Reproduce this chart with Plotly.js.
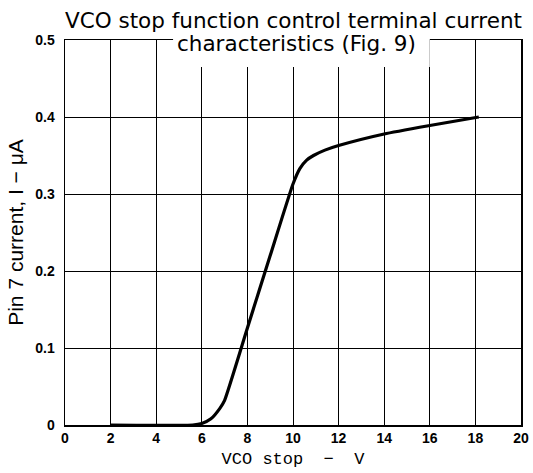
<!DOCTYPE html>
<html>
<head>
<meta charset="utf-8">
<script src="https://cdn.plot.ly/plotly-3.0.1.min.js"></script>
<style>html,body{margin:0;padding:0;background:#fff;}#chart{width:533px;height:473px;}</style>
</head>
<body>
<div id="chart"></div>
<script>
// Data
const vcoStopV = [2, 5.6, 6, 6.4, 6.8, 7, 8, 9, 10, 10.3, 10.6, 10.9, 11.4, 12, 14, 16, 18.15];
const pin7CurrentUA = [0, 0, 0.002, 0.008, 0.022, 0.032, 0.126, 0.22, 0.313, 0.333, 0.344, 0.35, 0.357, 0.363, 0.378, 0.389, 0.4];
const xTicks = [0, 2, 4, 6, 8, 10, 12, 14, 16, 18, 20];
const yTicks = [0, 0.1, 0.2, 0.3, 0.4, 0.5];
const yTickText = ['0', '0.1', '0.2', '0.3', '0.4', '0.5'];
const titleLine1 = 'VCO stop function control terminal current';
const titleLine2 = 'characteristics (Fig. 9)';
const xTitle = 'VCO stop  \u2212  V';
const yTitle = 'Pin 7 current, I \u2212 \u03bcA';

const trace = {
  x: vcoStopV,
  y: pin7CurrentUA,
  mode: 'lines',
  line: {color: '#000', width: 3.2, shape: 'spline', smoothing: 0.5},
  hoverinfo: 'skip'
};

const tickFont = {family: 'Liberation Sans, Arial, sans-serif', size: 14, color: '#000', weight: 'bold'};
const titleFont = {family: 'DejaVu Sans, Verdana, sans-serif', size: 21.5, color: '#000'};

const layout = {
  width: 533, height: 473,
  margin: {l: 65, r: 12, t: 40, b: 48},
  paper_bgcolor: '#fff', plot_bgcolor: '#fff',
  showlegend: false,
  xaxis: {
    range: [0, 20], tickvals: xTicks, ticktext: xTicks.map(String),
    showgrid: true, gridcolor: '#000', gridwidth: 1,
    zeroline: false, showline: true, linecolor: '#000', linewidth: 1.5, mirror: true,
    ticks: '', ticklabelstandoff: 0, tickfont: tickFont,
    title: {text: xTitle, font: {family: 'Liberation Mono, DejaVu Sans Mono, monospace', size: 17, color: '#000'}, standoff: 7}
  },
  yaxis: {
    range: [0, 0.5], tickvals: yTicks, ticktext: yTickText,
    showgrid: true, gridcolor: '#000', gridwidth: 1,
    zeroline: false, showline: true, linecolor: '#000', linewidth: 1.5, mirror: true,
    ticks: '', tickfont: tickFont, ticklabelstandoff: 6,
    title: {text: yTitle, font: {family: 'Liberation Sans, Arial, sans-serif', size: 21, color: '#000'}, standoff: 6}
  },
  shapes: [
    {
      type: 'rect', xref: 'paper', yref: 'paper', layer: 'above',
      x0: 0.237, x1: 0.80, y0: 0.93, y1: 1.01,
      fillcolor: '#fff', line: {width: 0}
    }
  ],
  annotations: [
    {
      text: titleLine1, xref: 'paper', yref: 'paper', x: 0.5, y: 1, yshift: 20,
      xanchor: 'center', yanchor: 'middle', showarrow: false,
      font: titleFont
    },
    {
      text: titleLine2, xref: 'paper', yref: 'paper', x: 0.508, y: 1, yshift: -3,
      xanchor: 'center', yanchor: 'middle', showarrow: false,
      font: titleFont
    }
  ]
};

Plotly.newPlot('chart', [trace], layout, {displayModeBar: false, staticPlot: true});
</script>
</body>
</html>
